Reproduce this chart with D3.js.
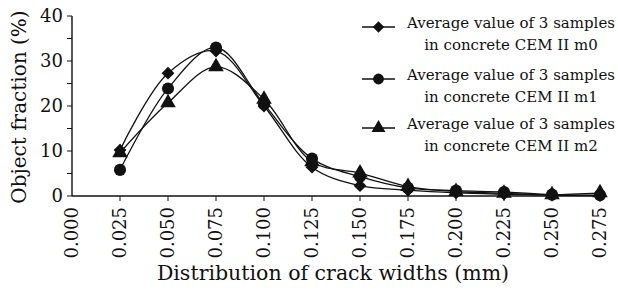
<!DOCTYPE html>
<html>
<head>
<meta charset="utf-8">
<script src="https://cdn.jsdelivr.net/npm/d3@7"></script>
<style>
  body { margin: 0; background: #fff; }
  text { font-family: "DejaVu Serif", serif; fill: #111; }
</style>
</head>
<body>
<div id="chart"></div>
<script>
  // crack widths (mm) and object fraction (%)
  var widths = [0.025, 0.050, 0.075, 0.100, 0.125, 0.150, 0.175, 0.200, 0.225, 0.250, 0.275];
  var m0 = [10.2, 27.3, 32.2, 20.0, 6.4, 2.3, 1.3, 0.7, 0.4, 0.2, 0.1];
  var m1 = [5.8, 23.9, 33.0, 20.4, 8.3, 4.3, 1.8, 1.2, 0.9, 0.3, 0.2];
  var m2 = [9.6, 20.7, 28.7, 21.5, 7.6, 5.1, 2.1, 1.0, 0.6, 0.3, 0.7];
  var xTicks = [0.000, 0.025, 0.050, 0.075, 0.100, 0.125, 0.150, 0.175, 0.200, 0.225, 0.250, 0.275];
  var yTicks = [0, 10, 20, 30, 40];
  var names = ["m0", "m1", "m2"];

  var svg = d3.select("#chart").append("svg").attr("width", 618).attr("height", 293);

  var x = d3.scaleLinear().domain([0, 0.275]).range([72, 600]);
  var y = d3.scaleLinear().domain([0, 40]).range([196, 16]);

  // axes
  svg.append("line").attr("x1", 72).attr("x2", 606).attr("y1", y(0)).attr("y2", y(0))
    .style("stroke", "#111").style("stroke-width", 1.4);
  svg.append("line").attr("x1", 72).attr("x2", 72).attr("y1", y(0)).attr("y2", y(40))
    .style("stroke", "#111").style("stroke-width", 1.4);

  svg.selectAll(".ytick").data(d3.range(0, 41, 5)).enter().append("line")
    .attr("x1", 67).attr("x2", 72)
    .attr("y1", function(d) { return y(d); }).attr("y2", function(d) { return y(d); })
    .style("stroke", "#111").style("stroke-width", 1);

  svg.selectAll(".ylab").data(yTicks).enter().append("text")
    .attr("x", 63).attr("y", function(d) { return y(d); }).attr("dy", "0.36em")
    .style("text-anchor", "end").style("font-size", "18px")
    .text(function(d) { return d; });

  svg.selectAll(".xtick").data(xTicks.slice(1)).enter().append("line")
    .attr("x1", function(d) { return x(d); }).attr("x2", function(d) { return x(d); })
    .attr("y1", y(0)).attr("y2", y(0) + 5)
    .style("stroke", "#111").style("stroke-width", 1);

  svg.selectAll(".xlab").data(xTicks).enter().append("text")
    .attr("transform", function(d) { return "translate(" + x(d) + "," + 207 + ") rotate(-90)"; })
    .attr("dy", "0.36em")
    .style("text-anchor", "end").style("font-size", "18px")
    .text(function(d) { return d.toFixed(3); });

  svg.append("text").attr("x", 333).attr("y", 280)
    .style("text-anchor", "middle").style("font-size", "20.5px")
    .text("Distribution of crack widths (mm)");

  svg.append("text").attr("transform", "translate(26,107) rotate(-90)")
    .style("text-anchor", "middle").style("font-size", "20px")
    .text("Object fraction (%)");

  // series
  var series = [m0, m1, m2];
  var symbols = [d3.symbolSquare, d3.symbolCircle, d3.symbolTriangle];
  var sizes = [82, 115, 105];
  var rot = [" rotate(45)", "", ""];

  var line = d3.line()
    .x(function(d, i) { return x(widths[i]); })
    .y(function(d) { return y(d); })
    .curve(d3.curveCatmullRom.alpha(0.5));

  series.forEach(function(s, k) {
    svg.append("path").attr("d", line(s))
      .style("fill", "none").style("stroke", "#111").style("stroke-width", 1.3);
  });

  series.forEach(function(s, k) {
    svg.selectAll(".pt" + k).data(s).enter().append("path")
      .attr("d", d3.symbol().type(symbols[k]).size(sizes[k]))
      .attr("transform", function(d, i) {
        return "translate(" + x(widths[i]) + "," + y(d) + ")" + rot[k];
      })
      .style("fill", "#111");
  });

  // legend
  var legend = svg.selectAll(".leg").data(names).enter().append("g")
    .attr("transform", function(d, i) { return "translate(0," + [27, 79, 128][i] + ")"; });

  legend.append("line").attr("x1", 362).attr("x2", 395).attr("y1", 0).attr("y2", 0)
    .style("stroke", "#111").style("stroke-width", 1.3);
  legend.append("path")
    .attr("d", function(d, i) { return d3.symbol().type(symbols[i]).size(sizes[i] * 0.8)(); })
    .attr("transform", function(d, i) { return "translate(378.5,0)" + rot[i]; })
    .style("fill", "#111");
  legend.append("text").attr("x", 511).attr("y", 1)
    .style("text-anchor", "middle").style("font-size", "15px")
    .text("Average value of 3 samples");
  legend.append("text").attr("x", 511).attr("y", 23)
    .style("text-anchor", "middle").style("font-size", "15px")
    .text(function(d) { return "in concrete CEM II " + d; });
</script>
</body>
</html>
